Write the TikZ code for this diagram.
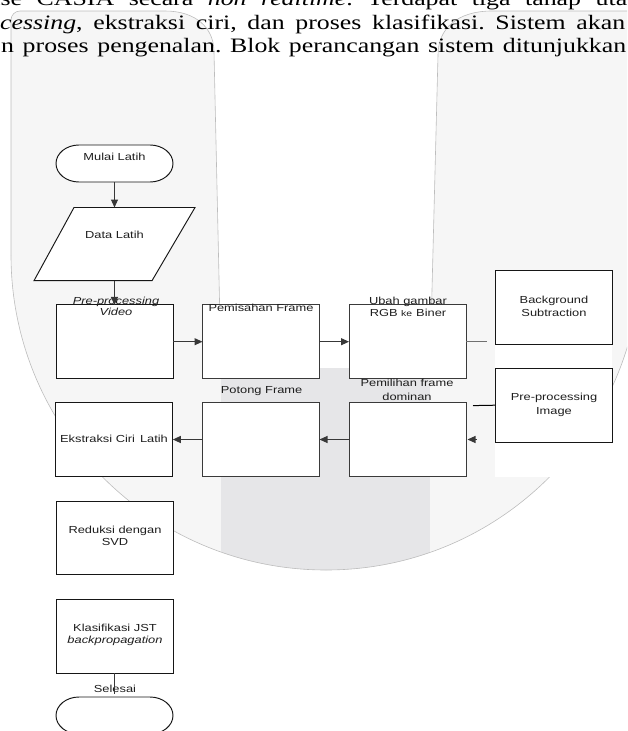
\documentclass[tikz,border=0pt]{standalone}
\usepackage{fontspec}
\usetikzlibrary{arrows.meta,calc}
\newfontfamily\boxfont[FakeStretch=1.26]{Liberation Sans}
\newfontfamily\pagefont[FakeStretch=1.26]{Liberation Serif}
\definecolor{wmlight}{HTML}{F6F6F6}
\definecolor{wmdark}{HTML}{E6E6E8}
\definecolor{wmline}{HTML}{BDBDBD}
\definecolor{boxline}{HTML}{161616}
\definecolor{boxlinetwo}{HTML}{3A3A3A}
\definecolor{conn}{HTML}{383838}
\definecolor{linkgray}{HTML}{707070}
\definecolor{txt}{HTML}{1E1E1E}
\frenchspacing
\begin{document}
\begin{tikzpicture}[x=1pt,y=-1pt,
  font=\boxfont\fontsize{10.2}{12}\selectfont,
  procbox/.style={draw=boxline,line width=0.95pt,fill=white,minimum width=117pt,minimum height=73.5pt,inner sep=0pt,outer sep=0pt},
  procboxgray/.style={procbox,draw=boxlinetwo},
  ghostbox/.style={minimum width=#1,inner sep=0pt,outer sep=0pt},
  termline/.style={draw=boxline,line width=0.95pt,fill=white},
  lbl/.style={anchor=base,inner sep=0pt,text=txt},
  pagetext/.style={anchor=base west,inner sep=0pt,font=\pagefont\fontsize{20.5}{23}\selectfont,text=black},
  arr/.style={draw=conn,line width=1.1pt,-{Triangle[length=8pt,width=7pt]}},
  link/.style={draw=conn,line width=1.1pt},
  wmedge/.style={draw=wmline,line width=0.6pt}
]
\useasboundingbox (0,0) rectangle (627,731);
\clip (0,0) rectangle (627,731);

% ---- watermark ----
\fill[wmlight] (11,20) arc[start angle=180,end angle=90,radius=9pt] -- (641,11) -- (641,255)
  arc[start angle=0,end angle=-180,radius=315pt] -- cycle;
\fill[white] (165,0) -- (165,11) .. controls (196,11) and (214,28) .. (214,52) -- (221,368)
  -- (430,368) -- (438,55) .. controls (438,28) and (458,11) .. (492,11) -- (492,0) -- cycle;
\begin{scope}
  \clip (326,255) circle[radius=315pt];
  \fill[wmdark] (221,368) rectangle (430,600);
\end{scope}
\draw[wmedge] (11,255) -- (11,20) arc[start angle=180,end angle=90,radius=9pt] -- (165,11)
  .. controls (196,11) and (214,28) .. (214,52) -- (221,368);
\draw[wmedge] (430,368) -- (438,55) .. controls (438,28) and (458,11) .. (492,11) -- (641,11) -- (641,255)
  arc[start angle=0,end angle=-180,radius=315pt];
\fill[white] (495,344) rectangle (612,477);

% ---- page text ----
\node[pagetext] (pline1) at (-11,5.5) {\hbox to 638pt{ase CASIA secara \textit{non realtime}. Terdapat tiga tahap uta}};
\node[pagetext] (pline2) at (0,29) {\hbox to 625pt{\textit{cessing}, ekstraksi ciri, dan proses klasifikasi. Sistem akan}};
\node[pagetext] (pline3) at (1,52) {\hbox to 625pt{n proses pengenalan. Blok perancangan sistem ditunjukkan}};

% ---- terminators and input ----
\node[ghostbox=117pt,minimum height=37pt] (mulai) at (114.5,163.5) {};
\draw[termline] ($(mulai.north west)+(23,0)$) -- ($(mulai.north east)+(-23,0)$)
  arc[start angle=90,end angle=-90,x radius=23pt,y radius=18.5pt] -- ($(mulai.south west)+(23,0)$)
  arc[start angle=270,end angle=90,x radius=23pt,y radius=18.5pt] -- cycle;
\node[ghostbox=117pt,minimum height=37pt] (selesai) at (114.5,715.5) {};
\draw[termline] ($(selesai.north west)+(23,0)$) -- ($(selesai.north east)+(-23,0)$)
  arc[start angle=90,end angle=-90,x radius=23pt,y radius=18.5pt] -- ($(selesai.south west)+(23,0)$)
  arc[start angle=270,end angle=90,x radius=23pt,y radius=18.5pt] -- cycle;
\node[ghostbox=161pt,minimum height=73.2pt] (data) at (114.5,244.1) {};
\draw[termline] ($(data.north west)+(40,0)$) -- (data.north east) -- ($(data.south east)+(-43,0)$)
  -- (data.south west) -- cycle;

% ---- process boxes ----
\node[procbox] (ppv) at (114.5,341.7) {};
\node[procboxgray] (pem) at (261,341.7) {};
\node[procboxgray] (ubah) at (407.5,341.7) {};
\node[procbox,minimum height=74pt] (bgs) at (553.5,307.5) {};
\node[procbox,minimum height=74pt] (ppi) at (553.5,405.2) {};
\node[procboxgray] (pemil) at (407.5,439.5) {};
\node[procboxgray] (potong) at (261,439.5) {};
\node[procbox] (ekstr) at (114.3,439.5) {};
\node[procbox] (redu) at (114.5,538.2) {};
\node[procbox] (klas) at (114.5,636.5) {};

% ---- labels ----
\node[lbl] (tmulai) at (114.5,160.7) {Mulai Latih};
\node[lbl] (tdata) at (114.5,238.6) {Data Latih};
\node[lbl] (tppva) at (116,304.3) {\itshape Pre-processing};
\node[lbl] (tppvb) at (116,315.6) {\itshape Video};
\node[lbl] (tpem) at (261,311.3) {Pemisahan Frame};
\node[lbl] (tubaha) at (408,304.3) {Ubah gambar};
\node[lbl] (tubahb) at (408,316) {RGB {\fontsize{8.3}{10}\selectfont ke}\hspace{4pt}Biner};
\node[lbl] (tbgsa) at (554,303) {Background};
\node[lbl] (tbgsb) at (554,316) {Subtraction};
\node[lbl] (tppia) at (554,400.8) {Pre-processing};
\node[lbl] (tppib) at (554,414) {Image};
\node[lbl] (tpemila) at (407,386.8) {Pemilihan frame};
\node[lbl] (tpemilb) at (407,400) {dominan};
\node[lbl] (tpotong) at (261.6,393) {Potong Frame};
\node[lbl] (tekstr) at (114,442.8) {Ekstraksi Ciri\hspace{5pt}Latih};
\node[lbl] (tredua) at (115,533.6) {Reduksi dengan};
\node[lbl] (tredub) at (115,545.3) {SVD};
\node[lbl] (tklasa) at (115,631.6) {Klasifikasi JST};
\node[lbl] (tklasb) at (115,643.6) {\itshape backpropagation};
\node[lbl] (tselesai) at (115,692.6) {Selesai};

% ---- connectors ----
\coordinate (ubahend) at (487,341.7);
\coordinate (ppistart) at (473,405.6);
\coordinate (lonestart) at (476.5,439.5);
\coordinate (selend) at (114.5,694);
\draw[arr] (mulai.south) -- (data.north);
\draw[arr] (data.south) -- (ppv.north);
\draw[arr] (ppv.east) -- (pem.west);
\draw[arr] (pem.east) -- (ubah.west);
\draw[draw=linkgray,line width=1.5pt] (ubah.east) -- (ubahend);
\draw[draw=black,line width=1pt] (ppistart) -- (ppi.west);
\draw[arr] (lonestart) -- ($(pemil.east)+(1.5,0)$);
\draw[arr] (pemil.west) -- (potong.east);
\draw[arr] (potong.west) -- (ekstr.east);
\draw[link] (klas.south) -- (selend);
\end{tikzpicture}
\end{document}
